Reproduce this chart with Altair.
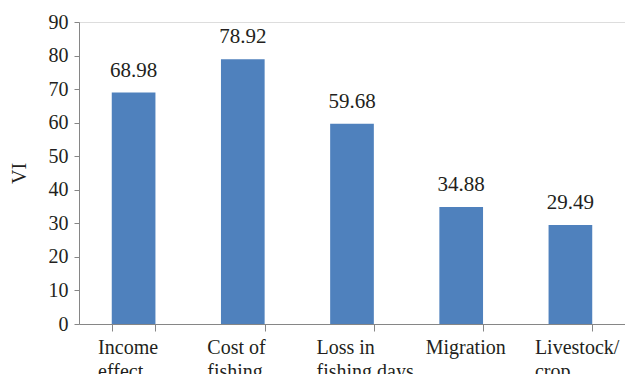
import altair as alt
import pandas as pd

# Vulnerability index by impact category
categories = ["Income\neffect", "Cost of\nfishing", "Loss in\nfishing days", "Migration", "Livestock/\ncrop"]
vi_values = [68.98, 78.92, 59.68, 34.88, 29.49]
y_ticks = [0, 10, 20, 30, 40, 50, 60, 70, 80, 90]

df = pd.DataFrame({"category": categories, "vi": vi_values})
df["label"] = df["vi"].map(lambda v: f"{v:.2f}")

FONT = "'Liberation Serif', 'Times New Roman', Times, serif"
TEXT = "#231f20"
AXIS = "#868686"
BLUE = "#4f81bd"

x_enc = alt.X(
    "category:N",
    sort=None,
    scale=alt.Scale(paddingInner=0.6, paddingOuter=0.3),
    axis=alt.Axis(
        title=None,
        labelAngle=0,
        labelExpr="split(datum.label, '\\n')",
        labelAlign="left",
        labelOffset=-36,
        labelBaseline="top",
        labelPadding=6,
        labelLineHeight=24,
        labelFont=FONT,
        labelFontSize=20,
        labelColor=TEXT,
        tickBand="extent",
        tickSize=7,
        tickColor=AXIS,
        domainColor=AXIS,
        labelOverlap=False,
    ),
)

y_enc = alt.Y(
    "vi:Q",
    scale=alt.Scale(domain=[0, 90], nice=False),
    axis=alt.Axis(
        title="VI",
        values=y_ticks,
        grid=False,
        tickSize=5,
        tickColor=AXIS,
        domainColor=AXIS,
        labelPadding=6,
        labelOverlap=False,
        labelFont=FONT,
        labelFontSize=20,
        labelColor=TEXT,
        titleFont=FONT,
        titleFontSize=20,
        titleFontWeight="normal",
        titleColor=TEXT,
        titleAngle=270,
        titleBaseline="middle",
        titleX=-60,
        titleY=151,
    ),
)

base = alt.Chart(df).encode(x=x_enc, y=y_enc)

bars = base.mark_bar(color=BLUE)

labels = base.mark_text(
    font=FONT, fontSize=21, color=TEXT, baseline="alphabetic", dy=-16
).encode(text="label:N")

chart = (
    alt.layer(bars, labels)
    .properties(
        width=546,
        height=302,
        autosize=alt.AutoSizeParams(type="none"),
        padding={"left": 79, "top": 22, "right": 0, "bottom": 50},
    )
    .configure_view(stroke=None)
    .configure(background="white")
)

chart.save("out.html", embed_options={"renderer": "svg", "actions": False})
